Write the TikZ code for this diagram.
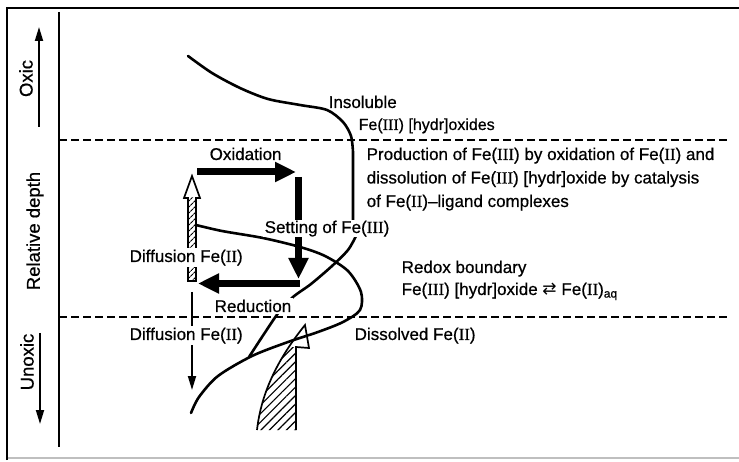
\documentclass[tikz,border=0pt]{standalone}
\usepackage{fontspec}
\setmainfont{Liberation Sans}[FakeBold=0.6]
\newfontfamily\numfont{Liberation Serif}[FakeBold=0.6]
\newfontfamily\symfont{DejaVu Sans}
\usetikzlibrary{arrows.meta,patterns.meta}
\newcommand\rn[1]{{\numfont #1}}
\newcommand\labfont{\fontsize{17}{20}\selectfont}
\newcommand\sidefont{\fontsize{18.5}{22}\selectfont}
\begin{document}
\begin{tikzpicture}[x=1pt,y=-1pt,
  lbl/.style={font=\labfont, inner sep=1.5pt, anchor=base west, text=black},
  wlbl/.style={lbl, fill=white},
  side/.style={font=\sidefont, rotate=90, inner sep=0pt},
  curve/.style={line width=2.6pt, line cap=round, line join=round},
  divider/.style={line width=1.7pt, dash pattern=on 8pt off 4pt},
  bigarrow/.style={line width=7pt, -{Triangle[length=21pt,width=19pt]}},
  thinarrow/.style={line width=1.8pt, -{Triangle[length=14pt,width=8pt]}},
  hatchline/.style={line width=1.7pt, line join=miter},
]
\useasboundingbox (0,0) rectangle (739,462);
% frame
\draw[line width=1.2pt, black!25] (7,458) -- (739,458);
\draw[line width=2.5pt] (7,460) -- (7,8) -- (739,8);
% depth axis and boundaries
\coordinate (axT) at (59,12);
\coordinate (axB) at (59,447);
\draw[line width=1.7pt] (axT) -- (axB);
\coordinate (d1a) at (59,140); \coordinate (d1b) at (728,140);
\coordinate (d2a) at (59,317); \coordinate (d2b) at (728,317);
\draw[divider] (d1a) -- (d1b);
\draw[divider] (d2a) -- (d2b);
% side labels
\node[side] (oxic) at (26,78.5) {Oxic};
\node[side] (reldepth) at (35,231) {Relative depth};
\node[side] (unoxic) at (27,362) {Unoxic};
\coordinate (oxa) at (39,127); \coordinate (oxb) at (39,27);
\coordinate (una) at (40,333); \coordinate (unb) at (40,424);
\draw[thinarrow] (oxa) -- (oxb);
\draw[thinarrow] (una) -- (unb);
% hatched dissolved Fe(II) flux (crescent with open head)
\begin{scope}
  \clip (240,347) rectangle (300,432);
  \fill[pattern={Lines[angle=45,distance=6pt,line width=1.2pt]}]
    (305,325) .. controls (285,350) and (262,385) .. (257,430) -- (296,430) -- (296,325) -- cycle;
\end{scope}
\draw[hatchline] (296,430) -- (296,347) -- (309,348) -- (305,325)
  .. controls (285,350) and (262,385) .. (257,430);
% hatched upward diffusion arrow
\fill[pattern={Lines[angle=45,distance=4pt,line width=1.1pt]}] (188,198) rectangle (196,281);
\draw[hatchline] (188,281) -- (188,198) -- (184,198) -- (192,176) -- (200,198) -- (196,198) -- (196,281) -- cycle;
% Fe(III) profile
\draw[curve] plot[smooth] coordinates {(188,56) (212,73) (240,88) (268,99) (300,105) (327,110) (343,122) (351,136) (353,152)} -- (353,222);
\draw[curve] plot[smooth] coordinates {(356,236) (348,250) (332,266) (311,284) (293,297) (279,312) (264,334) (249,357)};
% Fe(II) profile
\draw[curve] plot[smooth] coordinates {(196,225) (222,231) (263,238) (300,247) (325,256) (348,271) (361,292) (360,310) (343,322) (318,332) (288,342) (252,356) (218,376) (199,397) (191,413)};
% cycle arrows
\coordinate (ox1) at (197,172); \coordinate (ox2) at (296,172);
\coordinate (se1) at (298.5,177); \coordinate (se2) at (298.5,279);
\coordinate (re1) at (300,283.5); \coordinate (re2) at (198,283.5);
\draw[bigarrow] (ox1) -- (ox2);
\draw[bigarrow] (se1) -- (se2);
\draw[bigarrow] (re1) -- (re2);
% downward diffusion
\coordinate (dd1) at (192,292); \coordinate (dd2) at (192,390);
\draw[thinarrow] (dd1) -- (dd2);
% labels
\node[lbl] (insol) at (327,108) {Insoluble};
\node[lbl, font=\fontsize{16}{19}\selectfont] (fe3ox) at (357,130) {Fe(\rn{III}) [hydr]oxides};
\node[lbl] (prod1) at (365,160) {Production of Fe(\rn{III}) by oxidation of Fe(\rn{II}) and};
\node[lbl] (prod2) at (365,183.5) {dissolution of Fe(\rn{III}) [hydr]oxide by catalysis};
\node[lbl] (prod3) at (365,207) {of Fe(\rn{II})--ligand complexes};
\node[lbl] (oxid) at (208,160) {Oxidation};
\node[wlbl, inner ysep=0.5pt] (setting) at (263,233) {Setting of Fe(\rn{III})};
\node[wlbl] (diff1) at (128,262) {Diffusion Fe(\rn{II})};
\node[wlbl] (red) at (213,312) {Reduction};
\node[wlbl] (diff2) at (128,340) {Diffusion Fe(\rn{II})};
\node[lbl] (redox1) at (400,273) {Redox boundary};
\node[lbl] (redox2) at (400,295) {Fe(\rn{III}) [hydr]oxide {\symfont ⇄} Fe(\rn{II})\textsubscript{aq}};
\node[lbl] (dissolved) at (353,340) {Dissolved Fe(\rn{II})};
\end{tikzpicture}
\end{document}
